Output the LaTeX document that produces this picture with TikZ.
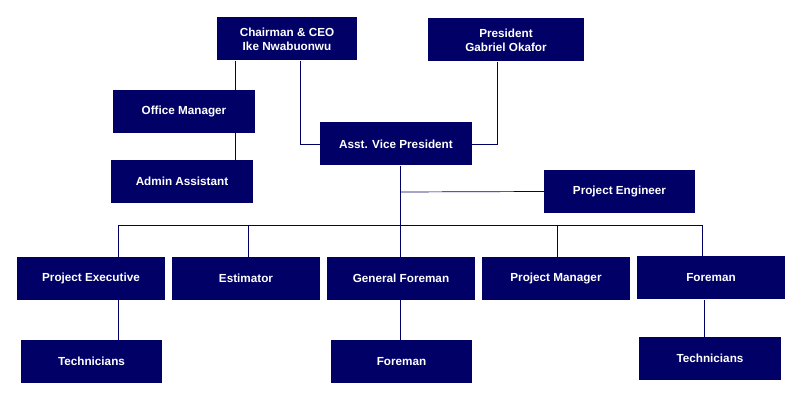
\documentclass[tikz,border=0pt]{standalone}
\usepackage{fontspec}
\setmainfont{Liberation Sans}
\definecolor{navy}{HTML}{000066}
\tikzset{
  unit/.style = {fill = navy, text = white, font = \bfseries\fontsize{10}{12}\selectfont, align = center, minimum height = 1.29cm, inner sep = 0pt},
  link/.style = {draw = navy, line width = 0.6pt}
}
\begin{document}
\begin{tikzpicture}[x = 0.03cm, y = -0.03cm]
	\useasboundingbox (0,0) rectangle (800,400);
	% upper part
	\node[unit, minimum width = 4.2cm](CEO) at (287,39){Chairman \& CEO\\Ike Nwabuonwu};
	\node[unit, minimum width = 4.68cm](PRES) at (506,40){President\\Gabriel Okafor};
	\node[unit, minimum width = 4.26cm](OFF) at (184,111.5){Office Manager};
	\node[unit, minimum width = 4.26cm](ADM) at (182,181.5){Admin Assistant};
	\node[unit, minimum width = 4.56cm](AVP) at (396,144){Asst. Vice President};
	\node[unit, minimum width = 4.53cm](ENG) at (619.5,191.5){Project Engineer};
	% second row
	\node[unit, minimum width = 4.44cm](EXE) at (91,278.5){Project Executive};
	\node[unit, minimum width = 4.44cm](EST) at (246,278.5){Estimator};
	\node[unit, minimum width = 4.44cm](GEN) at (401,278.5){General Foreman};
	\node[unit, minimum width = 4.44cm](MGR) at (556,278.5){Project Manager};
	\node[unit, minimum width = 4.44cm](FOR) at (711,278){Foreman};
	% third row
	\node[unit, minimum width = 4.23cm](TEC1) at (91.5,361.5){Technicians};
	\node[unit, minimum width = 4.23cm](FOR2) at (401.5,362){Foreman};
	\node[unit, minimum width = 4.26cm](TEC2) at (710,358.5){Technicians};
	% links
	\draw[link] (CEO.south -| 235,0) -- (OFF.north -| 235,0);
	\draw[link] (OFF.south -| 235,0) -- (ADM.north -| 235,0);
	\draw[link] (CEO.south -| 300,0) |- (AVP.west);
	\draw[link] (PRES.south -| 497,0) |- (AVP.east);
	\draw[link] (AVP.south -| 400,0) -- (400,225);
	\draw[link] (400,192) -- (ENG.west);
	\draw[link] (EXE.north -| 118,0) -- (118,225) -- (702,225) -- (FOR.north -| 702,0);
	\foreach \x/\n in {248/EST, 400/GEN, 557/MGR}
		\draw[link] (\x,225) -- (\n.north -| \x,0);
	\draw[link] (EXE.south -| 118,0) -- (TEC1.north -| 118,0);
	\draw[link] (GEN.south -| 400,0) -- (FOR2.north -| 400,0);
	\draw[link] (FOR.south -| 704,0) -- (TEC2.north -| 704,0);
\end{tikzpicture}
\end{document}
